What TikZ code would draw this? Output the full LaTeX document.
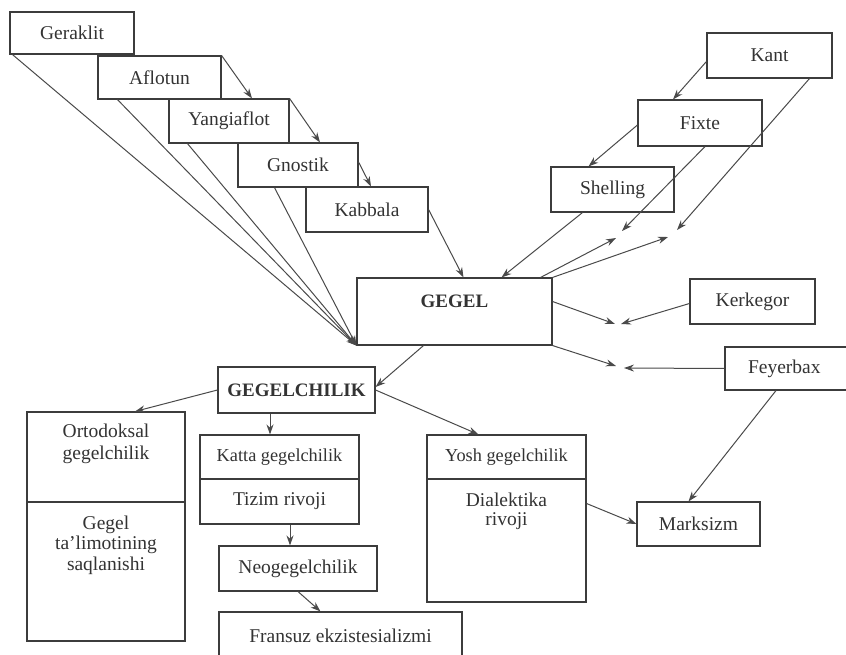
\documentclass[tikz,border=0pt]{standalone}
\usepackage{fontspec}
\setmainfont{Liberation Serif}
\usetikzlibrary{arrows.meta}
\definecolor{boxc}{HTML}{3C3C3C}
\definecolor{linec}{HTML}{4A4A4A}
\definecolor{txtc}{HTML}{333333}
\newcommand{\mainsz}{\fontsize{19.5}{22}\selectfont}
\newcommand{\smallsz}{\fontsize{18.3}{20}\selectfont}
\newcommand{\bfsz}{\fontsize{19}{22}\selectfont\bfseries}
\begin{document}
\begin{tikzpicture}[x=1pt,y=-1pt,
  box/.style={draw=boxc, line width=1.1pt, inner sep=0pt, font=\mainsz, text=txtc},
  lbl/.style={inner sep=0pt, font=\mainsz, text=txtc, align=center},
  arr/.style={draw=linec, line width=1pt, -{Stealth[length=10pt,width=7pt]}},
  ln/.style={draw=linec, line width=1pt}]
\useasboundingbox[fill=white] (0,0) rectangle (846,655);

% left chain
\node[box, minimum width=124pt, minimum height=42pt] (ger) at (72,33) {Geraklit};
\node[box, minimum width=123pt, minimum height=43pt] (afl) at (159.5,77.5) {Aflotun};
\node[box, minimum width=120pt, minimum height=44pt] (yan) at (229,121) {Yangiaflot};
\node[box, minimum width=120pt, minimum height=44pt] (gno) at (298,165) {Gnostik};
\node[box, minimum width=122pt, minimum height=45pt] (kab) at (367,209.5) {Kabbala};

% center
\node[box, minimum width=195pt, minimum height=67pt] (gegel) at (454.5,311.5) {};
\node[lbl, font=\bfsz] (gegelt) at (454.5,301) {GEGEL};
\node[box, minimum width=157pt, minimum height=46pt, font=\bfsz] (gch) at (296.5,390) {GEGELCHILIK};

% right chain
\node[box, minimum width=125pt, minimum height=45pt] (kant) at (769.5,55.5) {Kant};
\node[box, minimum width=124pt, minimum height=46pt] (fix) at (700,123) {Fixte};
\node[box, minimum width=123pt, minimum height=45pt] (she) at (612.5,189.5) {Shelling};
\node[box, minimum width=125pt, minimum height=45pt] (ker) at (752.5,301.5) {Kerkegor};
\node[box, minimum width=122pt, minimum height=43pt, text width=120pt, align=left] (fey) at (786,368.5) {\hspace*{22pt}Feyerbax};
\node[box, minimum width=123pt, minimum height=44pt] (mar) at (698.5,524) {Marksizm};

% bottom boxes
\node[box, minimum width=158pt, minimum height=90pt] (ort1) at (106,457) {};
\node[lbl] (ort1t) at (106,444) {Ortodoksal\\gegelchilik};
\node[box, minimum width=158pt, minimum height=139pt] (ort2) at (106,571.5) {};
\node[lbl, font=\fontsize{19.5}{20.5}\selectfont] (ort2t) at (106,545) {Gegel\\ta’limotining\\saqlanishi};

\node[box, minimum width=159pt, minimum height=44pt, font=\smallsz] (kat1) at (279.5,457) {Katta gegelchilik};
\node[box, minimum width=159pt, minimum height=45pt] (kat2) at (279.5,501.5) {Tizim rivoji};
\node[box, minimum width=158pt, minimum height=45pt] (neo) at (298,568.5) {Neogegelchilik};
\node[box, minimum width=243pt, minimum height=90pt] (fra) at (340.5,657) {};
\node[lbl] (frat) at (340.5,636) {Fransuz ekzistesializmi};

\node[box, minimum width=159pt, minimum height=44pt, font=\smallsz] (yos1) at (506.5,457) {Yosh gegelchilik};
\node[box, minimum width=159pt, minimum height=123pt] (yos2) at (506.5,540.5) {};
\node[lbl, font=\fontsize{19.5}{19}\selectfont] (yos2t) at (506.5,511) {Dialektika\\rivoji};

% meeting points
\coordinate (cF1) at (622,231);
\coordinate (cF2) at (616,238);
\coordinate (cK1) at (677,230);
\coordinate (cK2) at (668,237);
\coordinate (cR1) at (615,324);
\coordinate (cR2) at (621,324);
\coordinate (cY1) at (616,366);
\coordinate (cY2) at (624,368);

% left chain arrows
\draw[arr] (afl.north east) -- ([xshift=23pt]yan.north);
\draw[arr] (yan.north east) -- ([xshift=22pt]gno.north);
\draw[arr] ([yshift=3pt]gno.east) -- ([xshift=4pt]kab.north);
\draw[arr] (kab.east) -- ([xshift=9pt]gegel.north);
\draw[arr] ([xshift=3pt]ger.south west) -- (gegel.south west);
\draw[arr] ([xshift=20pt]afl.south west) -- (gegel.south west);
\draw[arr] ([xshift=19pt]yan.south west) -- (gegel.south west);
\draw[arr] ([xshift=37pt]gno.south west) -- (gegel.south west);

% right chain arrows
\draw[arr] ([yshift=-6pt]kant.west) -- ([xshift=-27pt]fix.north);
\draw[arr] ([yshift=-2pt]fix.west) -- ([xshift=-24pt]she.north);
\draw[arr] ([xshift=40pt]kant.south) -- (cK1);
\draw[arr] ([xshift=5pt]fix.south) -- (cF1);
\draw[arr] ([xshift=-30pt]she.south) -- ([xshift=47pt]gegel.north);
\draw[arr] ([xshift=-12pt]gegel.north east) -- (cF2);
\draw[arr] (gegel.north east) -- (cK2);
\draw[arr] ([yshift=10pt]gegel.east) -- (cR1);
\draw[arr] ([yshift=-2pt]ker.west) -- (cR2);
\draw[arr] (gegel.south east) -- (cY1);
\draw[arr] (fey.west) -- (cY2);

% lower arrows
\draw[arr] ([xshift=-31pt]gegel.south) -- ([yshift=3pt]gch.east);
\draw[arr] (gch.west) -- ([xshift=29pt]ort1.north);
\draw[arr] ([xshift=-26.5pt]gch.south) -- ([xshift=-9.5pt]kat1.north);
\draw[arr] ([xshift=10.5pt]kat2.south) -- ([xshift=-8pt]neo.north);
\draw[arr] (neo.south) -- ([xshift=-20pt]fra.north);
\draw[arr] (gch.east) -- ([xshift=-28pt]yos1.north);
\draw[arr] ([yshift=37pt]yos2.east) -- (mar.west);
\draw[arr] ([xshift=-10pt]fey.south) -- ([xshift=-10pt]mar.north);
\end{tikzpicture}
\end{document}
